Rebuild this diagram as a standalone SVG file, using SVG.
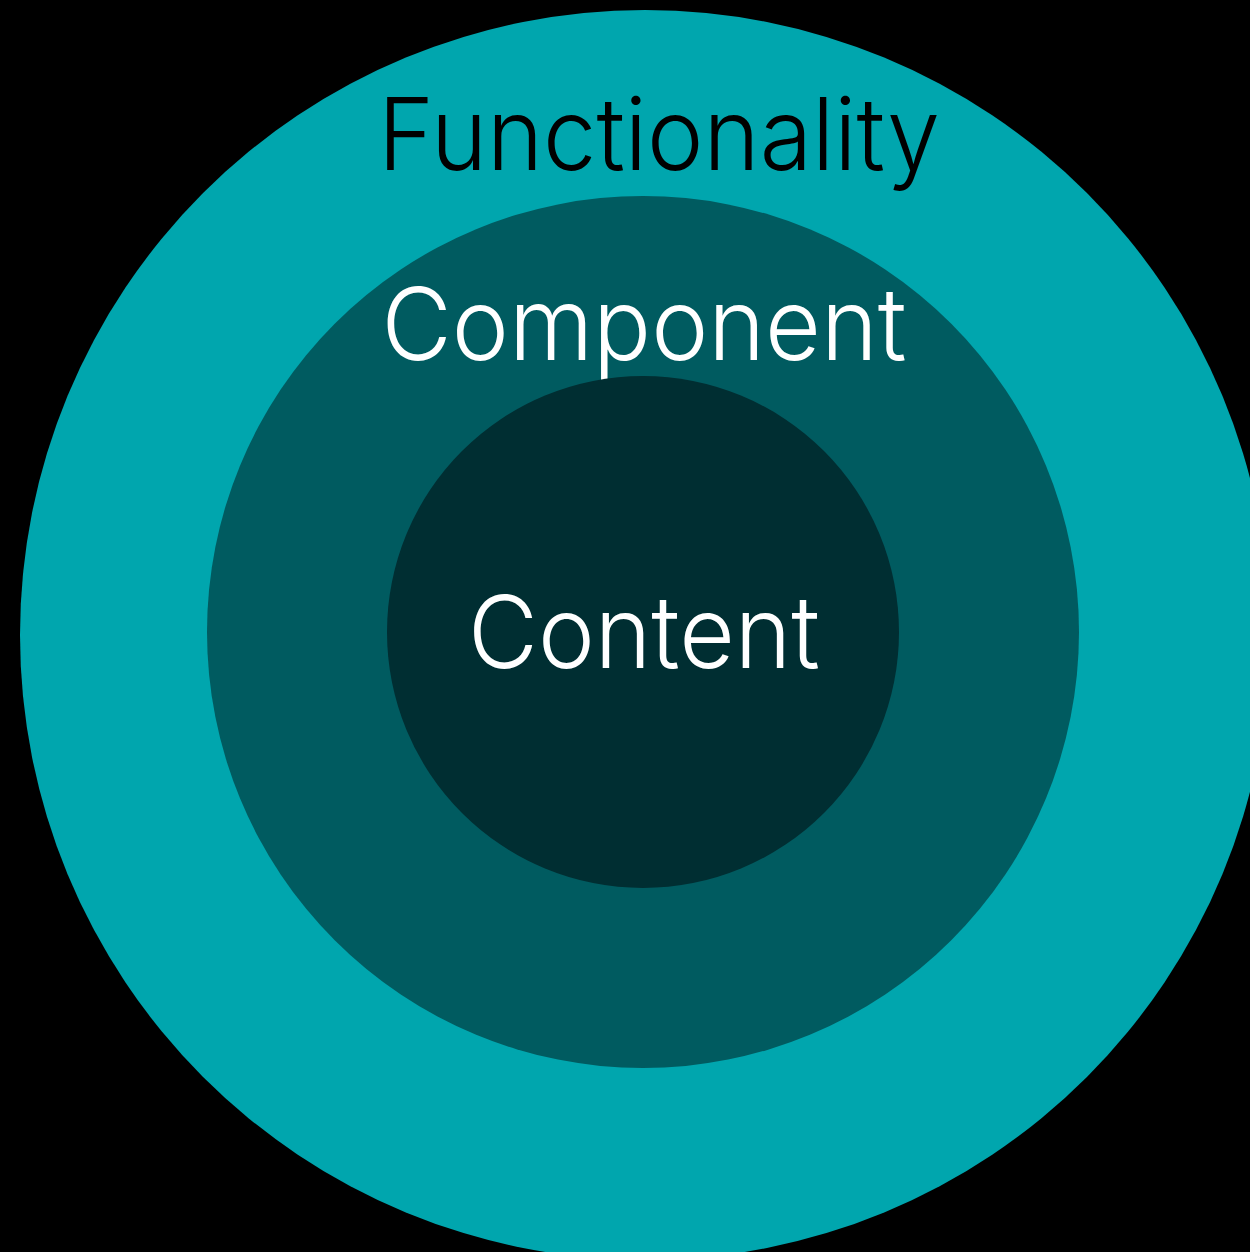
<svg xmlns="http://www.w3.org/2000/svg" width="1250" height="1252" viewBox="0 0 1250 1252">
<style>
.lbl{font-family:Inter,Roboto,"Liberation Sans",Arial,sans-serif;font-weight:300;font-size:100px;text-anchor:middle}
</style>
<rect x="0" y="0" width="1250" height="1252" fill="#000"/>
<g id="functionality">
<circle cx="645" cy="635" r="625" fill="#00A6AE"/>
<text class="lbl" x="659" y="170" fill="#000" textLength="562" lengthAdjust="spacingAndGlyphs">Functionality</text>
</g>
<g id="component">
<circle cx="643" cy="632" r="436" fill="#005B60"/>
<text class="lbl" x="644" y="360" fill="#fff" textLength="525" lengthAdjust="spacingAndGlyphs">Component</text>
</g>
<g id="content">
<circle cx="643" cy="632" r="256" fill="#002E32"/>
<text class="lbl" x="644" y="668" fill="#fff" textLength="352" lengthAdjust="spacingAndGlyphs">Content</text>
</g>
<g id="connectors"/>
</svg>
